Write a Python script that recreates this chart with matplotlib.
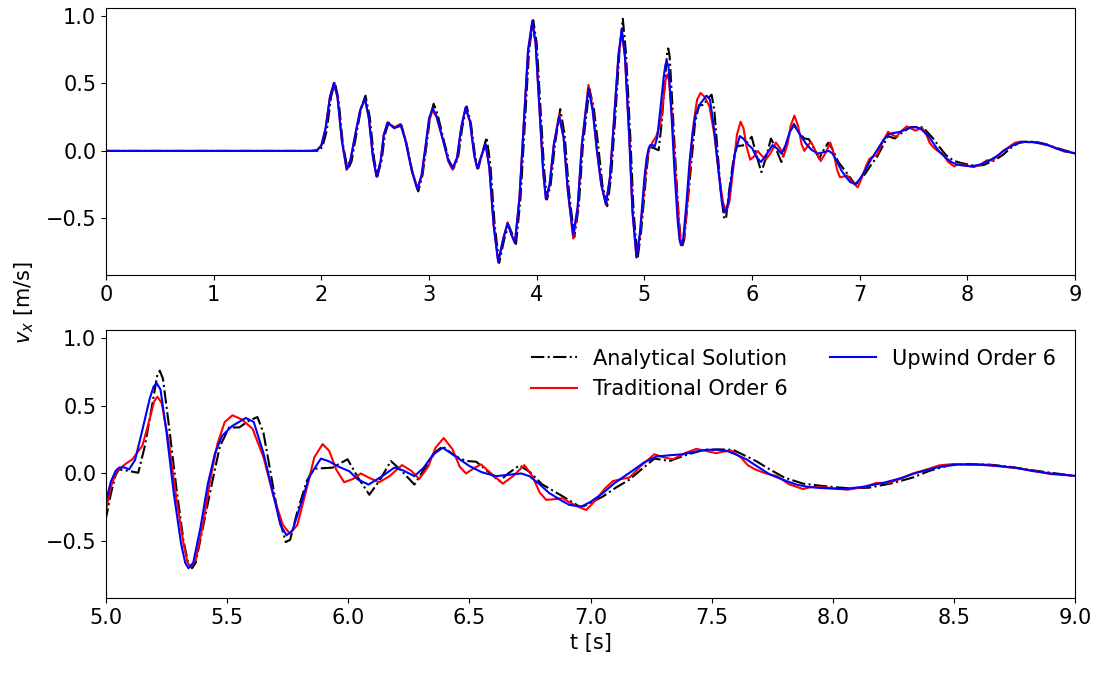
import numpy as np
import matplotlib
matplotlib.use("Agg")
import matplotlib.pyplot as plt

# analytical solution (dash-dot black)
t_ana = [0.0, 1.92, 1.97, 2.01, 2.05, 2.09, 2.125, 2.16, 2.20, 2.245, 2.28, 2.32, 2.37, 2.41,
         2.45, 2.49, 2.52, 2.56, 2.59, 2.625, 2.685, 2.745, 2.79, 2.85, 2.90, 2.94, 2.98, 3.01,
         3.043, 3.08, 3.14, 3.19, 3.228, 3.27, 3.31, 3.35, 3.39, 3.43, 3.458, 3.50, 3.535, 3.57,
         3.61, 3.652, 3.70, 3.74, 3.775, 3.808, 3.85, 3.89, 3.93, 3.968, 4.00, 4.04, 4.07, 4.096,
         4.13, 4.17, 4.219, 4.26, 4.30, 4.349, 4.39, 4.43, 4.49, 4.53, 4.57, 4.61, 4.655, 4.69,
         4.73, 4.77, 4.80, 4.83, 4.87, 4.90, 4.937, 4.97, 5.00, 5.02, 5.04, 5.054, 5.09, 5.133,
         5.16, 5.19, 5.212, 5.222, 5.235, 5.26, 5.29, 5.32, 5.34, 5.355, 5.37, 5.40, 5.44, 5.47,
         5.508, 5.55, 5.59, 5.625, 5.65, 5.68, 5.71, 5.742, 5.76, 5.79, 5.83, 5.86, 5.935, 5.997,
         6.04, 6.087, 6.13, 6.176, 6.22, 6.273, 6.32, 6.36, 6.39, 6.44, 6.486, 6.528, 6.58, 6.624,
         6.66, 6.707, 6.75, 6.80, 6.886, 6.955, 6.975, 7.051, 7.10, 7.161, 7.21, 7.264, 7.326,
         7.40, 7.47, 7.53, 7.588, 7.64, 7.685, 7.74, 7.80, 7.877, 7.946, 8.00, 8.07, 8.15, 8.25,
         8.33, 8.40, 8.48, 8.56, 8.65, 8.73, 8.82, 8.90, 9.00]
v_ana = [0.0, 0.0, 0.0, 0.03, 0.15, 0.40, 0.51, 0.38, 0.05, -0.14, -0.08, 0.10, 0.32, 0.41,
         0.25, -0.06, -0.19, -0.07, 0.12, 0.21, 0.17, 0.19, 0.06, -0.17, -0.30, -0.18, 0.06, 0.25,
         0.35, 0.27, 0.07, -0.08, -0.13, -0.05, 0.18, 0.33, 0.20, -0.05, -0.13, 0.0, 0.10, -0.10,
         -0.55, -0.83, -0.65, -0.55, -0.62, -0.69, -0.35, 0.20, 0.75, 0.97, 0.80, 0.25, -0.15, -0.36,
         -0.25, 0.05, 0.31, 0.12, -0.30, -0.64, -0.42, 0.05, 0.46, 0.32, 0.05, -0.25, -0.41, -0.20,
         0.25, 0.75, 0.98, 0.72, 0.10, -0.45, -0.80, -0.60, -0.33, -0.15, -0.01, 0.03, 0.02, 0.005,
         0.20, 0.50, 0.73, 0.76, 0.70, 0.35, -0.10, -0.50, -0.67, -0.70, -0.66, -0.40, -0.05, 0.20,
         0.34, 0.34, 0.39, 0.417, 0.30, 0.00, -0.30, -0.507, -0.49, -0.28, -0.05, 0.035, 0.043, 0.105,
         -0.03, -0.157, -0.05, 0.092, 0.02, -0.082, 0.05, 0.16, 0.20, 0.13, 0.092, 0.087, 0.01, -0.057,
         0.0, 0.06, 0.01, -0.08, -0.17, -0.245, -0.24, -0.17, -0.11, -0.045, 0.03, 0.11, 0.092,
         0.14, 0.175, 0.178, 0.175, 0.13, 0.09, 0.03, -0.03, -0.075, -0.09, -0.10, -0.11, -0.105, -0.07,
         -0.03, 0.02, 0.06, 0.07, 0.065, 0.05, 0.025, 0.005, -0.018]

# traditional order 6 (red)
t_trad = [0.0, 1.90, 1.96, 2.00, 2.04, 2.08, 2.117, 2.15, 2.19, 2.235, 2.27, 2.31, 2.36, 2.405,
          2.44, 2.48, 2.513, 2.55, 2.58, 2.615, 2.677, 2.736, 2.78, 2.84, 2.895, 2.935, 2.97, 3.00,
          3.033, 3.07, 3.13, 3.18, 3.219, 3.26, 3.30, 3.34, 3.38, 3.42, 3.448, 3.49, 3.525, 3.56,
          3.60, 3.643, 3.69, 3.73, 3.765, 3.798, 3.84, 3.88, 3.92, 3.959, 3.99, 4.03, 4.06, 4.086,
          4.12, 4.16, 4.209, 4.25, 4.29, 4.339, 4.38, 4.42, 4.481, 4.52, 4.56, 4.60, 4.643, 4.68,
          4.72, 4.76, 4.791, 4.82, 4.86, 4.89, 4.927, 4.96, 5.00, 5.02, 5.04, 5.054, 5.08, 5.109,
          5.15, 5.18, 5.198, 5.212, 5.23, 5.26, 5.29, 5.32, 5.337, 5.35, 5.37, 5.40, 5.43, 5.46,
          5.49, 5.522, 5.56, 5.605, 5.65, 5.69, 5.73, 5.759, 5.79, 5.83, 5.86, 5.894, 5.921, 5.95,
          5.983, 6.02, 6.052, 6.09, 6.128, 6.17, 6.222, 6.26, 6.293, 6.33, 6.36, 6.394, 6.43, 6.46,
          6.486, 6.52, 6.548, 6.59, 6.638, 6.68, 6.727, 6.76, 6.79, 6.817, 6.85, 6.886, 6.92, 6.955,
          6.982, 7.02, 7.06, 7.092, 7.13, 7.161, 7.21, 7.264, 7.30, 7.34, 7.39, 7.437, 7.48, 7.519,
          7.55, 7.58, 7.62, 7.65, 7.68, 7.716, 7.77, 7.82, 7.877, 7.91, 7.946, 7.98, 8.06, 8.13,
          8.18, 8.23, 8.28, 8.33, 8.38, 8.44, 8.50, 8.56, 8.62, 8.70, 8.76, 8.83, 8.90, 8.95, 9.00]
v_trad = [0.0, 0.0, 0.005, 0.04, 0.17, 0.40, 0.50, 0.40, 0.08, -0.14, -0.07, 0.10, 0.30, 0.38,
          0.25, -0.05, -0.19, -0.08, 0.12, 0.21, 0.175, 0.20, 0.09, -0.14, -0.28, -0.18, 0.04, 0.22,
          0.30, 0.25, 0.08, -0.08, -0.14, -0.06, 0.17, 0.32, 0.22, -0.03, -0.13, -0.03, 0.05, -0.12,
          -0.55, -0.82, -0.65, -0.53, -0.62, -0.68, -0.35, 0.20, 0.73, 0.95, 0.80, 0.25, -0.15, -0.36,
          -0.25, 0.05, 0.27, 0.10, -0.30, -0.65, -0.44, 0.05, 0.49, 0.32, 0.00, -0.25, -0.40, -0.20,
          0.25, 0.70, 0.88, 0.70, 0.10, -0.45, -0.79, -0.62, -0.27, -0.10, 0.00, 0.03, 0.07, 0.105,
          0.205, 0.40, 0.53, 0.567, 0.52, 0.22, -0.18, -0.52, -0.66, -0.69, -0.64, -0.38, -0.05, 0.22,
          0.38, 0.43, 0.40, 0.33, 0.12, -0.16, -0.38, -0.445, -0.38, -0.10, 0.12, 0.217, 0.168, 0.03,
          -0.065, -0.04, 0.0, -0.035, -0.065, -0.02, 0.062, 0.02, -0.04, 0.05, 0.19, 0.262, 0.18, 0.05,
          0.0, 0.04, 0.067, 0.00, -0.075, -0.02, 0.062, -0.02, -0.14, -0.195, -0.19, -0.183, -0.22, -0.25,
          -0.27, -0.20, -0.11, -0.057, -0.04, -0.03, 0.06, 0.142, 0.12, 0.105, 0.15, 0.182, 0.165, 0.15,
          0.162, 0.17, 0.12, 0.06, 0.03, 0.005, -0.02, -0.08, -0.115, -0.10, -0.10, -0.105, -0.12, -0.10,
          -0.07, -0.07, -0.04, 0.00, 0.025, 0.06, 0.07, 0.065, 0.067, 0.05, 0.04, 0.02, -0.005, -0.01, -0.018]

# upwind order 6 (blue)
t_up = [0.0, 1.90, 1.96, 2.00, 2.04, 2.08, 2.117, 2.15, 2.19, 2.235, 2.27, 2.31, 2.36, 2.405,
        2.44, 2.48, 2.513, 2.55, 2.58, 2.615, 2.677, 2.736, 2.78, 2.84, 2.891, 2.93, 2.97, 3.00,
        3.033, 3.07, 3.13, 3.18, 3.219, 3.26, 3.30, 3.34, 3.38, 3.42, 3.448, 3.49, 3.525, 3.56,
        3.60, 3.643, 3.69, 3.73, 3.765, 3.798, 3.84, 3.88, 3.92, 3.959, 3.99, 4.03, 4.06, 4.086,
        4.12, 4.16, 4.209, 4.25, 4.29, 4.339, 4.38, 4.42, 4.481, 4.52, 4.56, 4.60, 4.643, 4.68,
        4.72, 4.76, 4.791, 4.82, 4.86, 4.89, 4.927, 4.96, 5.00, 5.02, 5.04, 5.054, 5.075, 5.095,
        5.12, 5.15, 5.18, 5.196, 5.209, 5.225, 5.25, 5.28, 5.31, 5.327, 5.34, 5.36, 5.39, 5.42,
        5.45, 5.48, 5.52, 5.577, 5.61, 5.65, 5.69, 5.72, 5.745, 5.77, 5.80, 5.84, 5.887, 5.92,
        5.96, 6.004, 6.04, 6.084, 6.14, 6.19, 6.23, 6.273, 6.31, 6.35, 6.39, 6.44, 6.50, 6.55,
        6.61, 6.66, 6.714, 6.748, 6.79, 6.83, 6.88, 6.913, 6.962, 7.00, 7.051, 7.10, 7.161, 7.22,
        7.271, 7.33, 7.381, 7.43, 7.478, 7.52, 7.561, 7.60, 7.643, 7.69, 7.74, 7.80, 7.85, 7.90,
        7.946, 8.00, 8.043, 8.12, 8.208, 8.28, 8.346, 8.42, 8.48, 8.525, 8.60, 8.69, 8.76, 8.828,
        8.90, 8.986, 9.00]
v_up = [0.0, 0.0, 0.005, 0.04, 0.17, 0.40, 0.505, 0.40, 0.08, -0.135, -0.07, 0.10, 0.30, 0.39,
        0.25, -0.05, -0.19, -0.08, 0.12, 0.21, 0.168, 0.193, 0.08, -0.15, -0.285, -0.18, 0.05, 0.24,
        0.316, 0.26, 0.08, -0.07, -0.128, -0.05, 0.18, 0.323, 0.22, -0.03, -0.128, -0.03, 0.052, -0.12,
        -0.55, -0.827, -0.65, -0.536, -0.62, -0.684, -0.35, 0.20, 0.75, 0.965, 0.80, 0.25, -0.15, -0.356,
        -0.25, 0.05, 0.254, 0.10, -0.30, -0.62, -0.42, 0.05, 0.464, 0.30, 0.00, -0.25, -0.393, -0.20,
        0.25, 0.72, 0.90, 0.70, 0.10, -0.45, -0.788, -0.60, -0.207, -0.06, 0.02, 0.043, 0.045, 0.03,
        0.10, 0.32, 0.55, 0.64, 0.667, 0.62, 0.30, -0.15, -0.52, -0.66, -0.70, -0.66, -0.40, -0.08,
        0.15, 0.28, 0.35, 0.41, 0.38, 0.15, -0.15, -0.38, -0.457, -0.42, -0.25, -0.02, 0.11, 0.09,
        0.05, 0.017, -0.045, -0.082, -0.02, 0.043, 0.02, -0.02, 0.04, 0.14, 0.19, 0.13, 0.055, 0.01,
        -0.02, -0.01, 0.0, -0.02, -0.08, -0.145, -0.20, -0.232, -0.245, -0.21, -0.145, -0.07, 0.005, 0.08,
        0.125, 0.135, 0.142, 0.16, 0.175, 0.175, 0.168, 0.14, 0.105, 0.05, -0.007, -0.05, -0.082, -0.10,
        -0.107, -0.112, -0.115, -0.10, -0.07, -0.035, 0.005, 0.04, 0.06, 0.067, 0.065, 0.055, 0.04, 0.017,
        0.0, -0.015, -0.018]

fig = plt.figure(figsize=(11.02, 6.82), dpi=100)
ax1 = fig.add_axes([0.0962, 0.5968, 0.8793, 0.3915])
ax2 = fig.add_axes([0.0962, 0.1232, 0.8793, 0.3929])

for ax in (ax1, ax2):
    ax.plot(t_ana, v_ana, color="black", linestyle="-.", lw=1.5, label="Analytical Solution")
    ax.plot(t_trad, v_trad, color="red", lw=1.5, label="Traditional Order 6")
    ax.plot(t_up, v_up, color="blue", lw=1.5, label="Upwind Order 6")
    ax.set_ylim(-0.92, 1.06)
    ax.set_yticks([-0.5, 0.0, 0.5, 1.0])
    ax.tick_params(labelsize=15)

ax1.set_xlim(0, 9)
ax1.set_xticks(range(10))
ax2.set_xlim(5, 9)
ax2.set_xticks(np.arange(5.0, 9.01, 0.5))

ax2.legend(loc="upper right", ncol=2, frameon=False, fontsize=15,
           handlelength=2.2, labelspacing=0.5, columnspacing=2.0)
ax2.set_xlabel("t [s]", fontsize=15)
fig.text(0.022, 0.557, "$v_x$ [m/s]", rotation=90, fontsize=15, ha="center", va="center")

plt.savefig("out.png")
